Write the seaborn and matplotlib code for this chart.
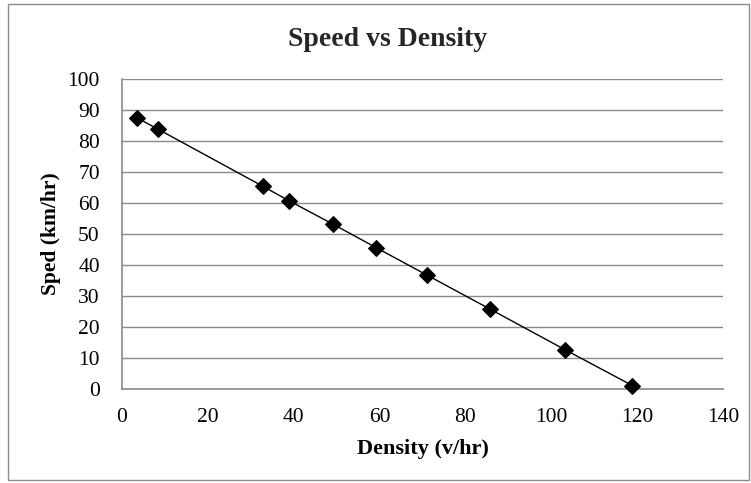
import matplotlib
matplotlib.use("Agg")
import matplotlib.pyplot as plt
import seaborn as sns
import pandas as pd
from matplotlib.patches import Rectangle

density = [3.6, 8.4, 32.8, 38.8, 49.1, 59.2, 71.1, 85.7, 103.3, 118.9]
speed = [87.4, 83.8, 65.4, 60.8, 53.2, 45.6, 36.7, 25.8, 12.6, 1.1]
x_ticks = [0, 20, 40, 60, 80, 100, 120, 140]
y_ticks = [0, 10, 20, 30, 40, 50, 60, 70, 80, 90, 100]

df = pd.DataFrame({"Density": density, "Speed": speed})

sns.set_theme(style="white")
plt.rcParams['font.family'] = ['Liberation Serif', 'DejaVu Serif']

W, H = 751, 483
L, R, T, B = 122, 723, 79, 389
fig = plt.figure(figsize=(W/100, H/100), dpi=100)
ax = fig.add_axes([L/W, 1 - B/H, (R-L)/W, (B-T)/H])

fig.patches.append(Rectangle((8/W, 3/H), 741/W, 476/H, transform=fig.transFigure,
                             fill=False, edgecolor='#8c8c8c', linewidth=1.0))

sns.lineplot(data=df, x="Density", y="Speed", sort=False, ax=ax, color='black',
             linewidth=1.0, marker='D', markersize=8.5, markeredgecolor='black',
             markerfacecolor='black', zorder=3, clip_on=False)

ax.set_xlim(0, 140)
ax.set_ylim(0, 100)
ax.set_xticks(x_ticks)
ax.set_yticks(y_ticks)
ax.tick_params(axis='both', labelsize=15.5, length=0, colors='black')
ax.tick_params(axis='x', pad=14)
ax.tick_params(axis='y', pad=16)
ax.yaxis.grid(True, color='#8a8a8a', linewidth=1.0)
ax.xaxis.grid(False)
for s in ['top', 'right']:
    ax.spines[s].set_visible(False)
for s in ['left', 'bottom']:
    ax.spines[s].set_color('#8a8a8a')
    ax.spines[s].set_linewidth(1.2)

ax.set_xlabel("Density (v/hr)", fontsize=16, fontweight='bold', color='black')
ax.set_ylabel("Sped (km/hr)", fontsize=15.5, fontweight='bold', color='black')
ax.xaxis.set_label_coords(0.5, (B - 449) / (B - T))
ax.xaxis.label.set_va('center')
ax.yaxis.set_label_coords((51 - L) / (R - L), 0.5)
ax.yaxis.label.set_va('center')
fig.text(388/W, 1 - 40/H, "Speed vs Density", ha='center', va='center',
         fontsize=20, fontweight='bold')

fig.savefig("out.png", dpi=100)
